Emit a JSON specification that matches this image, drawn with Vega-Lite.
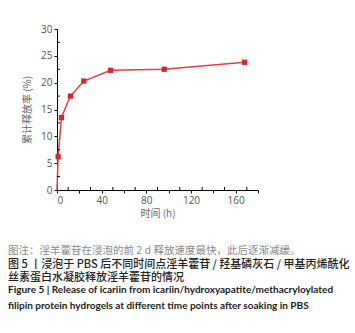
{
  "$schema": "https://vega.github.io/schema/vega-lite/v6.json",
  "padding": {"left": 8, "top": 24, "right": 5, "bottom": 5},
  "background": "white",
  "config": {
    "view": {"stroke": null},
    "axis": {"grid": false, "domainColor": "#000", "tickColor": "#000", "tickSize": 3, "labelPadding": 2,
      "labelFont": "Open Sans", "labelFontSize": 10, "labelColor": "#555",
      "titleFont": "Noto Sans CJK SC", "titleFontSize": 10, "titleFontWeight": "normal", "titleColor": "#666"},
    "axisX": {"titlePadding": 3},
    "axisY": {"titlePadding": 8}
  },
  "title": {
    "text": ["Figure 5 | Release of icariin from icariin/hydroxyapatite/methacryloylated", "filipin protein hydrogels at different time points after soaking in PBS"],
    "orient": "bottom",
    "anchor": "start",
    "frame": "bounds",
    "offset": 2,
    "font": "Lato",
    "fontSize": 10,
    "fontWeight": "bold",
    "color": "#1a1a1a",
    "lineHeight": 16
  },
  "vconcat": [
    {
      "title": {
        "text": ["图 5 丨浸泡于 PBS 后不同时间点淫羊藿苷 / 羟基磷灰石 / 甲基丙烯酰化", "丝素蛋白水凝胶释放淫羊藿苷的情况"],
        "orient": "bottom",
        "anchor": "start",
        "frame": "bounds",
        "offset": 2,
        "font": "Noto Sans CJK SC",
        "fontSize": 11,
        "fontWeight": 500,
        "color": "#222222",
        "lineHeight": 13
      },
      "vconcat": [
        {
          "width": 201,
          "height": 161,
          "title": {
            "text": "图注：淫羊藿苷在浸泡的前 2 d 释放速度最快，此后逐渐减缓。",
            "orient": "bottom",
            "anchor": "start",
            "frame": "group",
            "dx": -49,
            "offset": 28,
            "font": "Noto Sans CJK SC",
            "fontSize": 10.5,
            "fontWeight": "normal",
            "color": "#8a8a8a"
          },
          "layer": [
            {
              "data": {"values": [
                {"t": 0, "r": 0},
                {"t": 1, "r": 6.2},
                {"t": 4, "r": 13.5},
                {"t": 12, "r": 17.5},
                {"t": 24, "r": 20.3},
                {"t": 48, "r": 22.3},
                {"t": 96, "r": 22.5},
                {"t": 168, "r": 23.8}
              ]},
              "layer": [
                {
                  "mark": {"type": "line", "color": "#e2403b", "strokeWidth": 1.5},
                  "encoding": {
                    "x": {"field": "t", "type": "quantitative", "scale": {"domain": [0, 180], "nice": false},
                      "axis": {"title": "时间 (h)", "values": [0,20,40,60,80,100,120,140,160,180]}},
                    "y": {"field": "r", "type": "quantitative", "scale": {"domain": [0, 30], "nice": false},
                      "axis": {"title": "累计释放率 (%)", "values": [0,5,10,15,20,25,30]}}
                  }
                },
                {
                  "transform": [{"filter": "datum.t > 0"}],
                  "mark": {"type": "square", "color": "#d8262b", "opacity": 1, "size": 28},
                  "encoding": {
                    "x": {"field": "t", "type": "quantitative",
                      "axis": {"title": "时间 (h)", "values": [0,20,40,60,80,100,120,140,160,180]}},
                    "y": {"field": "r", "type": "quantitative",
                      "axis": {"title": "累计释放率 (%)", "values": [0,5,10,15,20,25,30]}}
                  }
                }
              ]
            },
            {
              "data": {"values": [{"m": 10},{"m": 30},{"m": 50},{"m": 70},{"m": 90},{"m": 110},{"m": 130},{"m": 150},{"m": 170}]},
              "mark": {"type": "rule", "color": "#000", "strokeWidth": 1},
              "encoding": {
                "x": {"field": "m", "type": "quantitative",
                  "axis": {"title": "时间 (h)", "values": [0,20,40,60,80,100,120,140,160,180]}},
                "y": {"datum": 0, "type": "quantitative",
                  "axis": {"title": "累计释放率 (%)", "values": [0,5,10,15,20,25,30]}},
                "y2": {"datum": 0.55}
              }
            },
            {
              "data": {"values": [{"m": 2.5},{"m": 7.5},{"m": 12.5},{"m": 17.5},{"m": 22.5},{"m": 27.5}]},
              "mark": {"type": "rule", "color": "#000", "strokeWidth": 1},
              "encoding": {
                "y": {"field": "m", "type": "quantitative",
                  "axis": {"title": "累计释放率 (%)", "values": [0,5,10,15,20,25,30]}},
                "x": {"datum": 0, "type": "quantitative",
                  "axis": {"title": "时间 (h)", "values": [0,20,40,60,80,100,120,140,160,180]}},
                "x2": {"datum": 2.7}
              }
            }
          ]
        }
      ]
    }
  ]
}
